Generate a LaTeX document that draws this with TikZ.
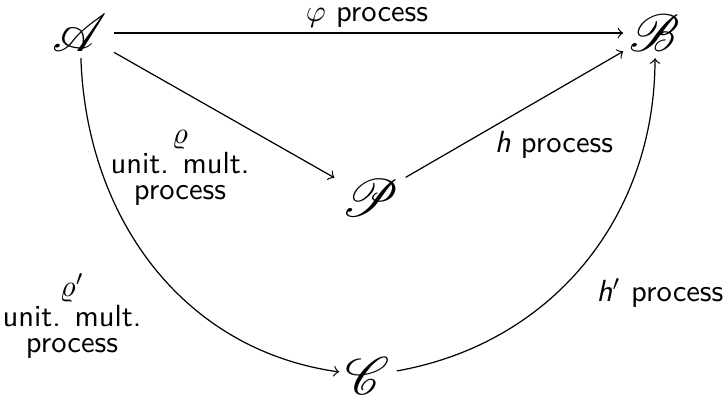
\documentclass[tikz,border=0pt]{standalone}
\usepackage{mathrsfs}
\begin{document}
\begin{tikzpicture}[font=\sffamily, x=0.327pt, y=-0.327pt, >=to]

        % Stili per oggetti, frecce ed etichette
        \tikzset{oggetto/.style={font=\LARGE, inner sep=2pt},
                 freccia/.style={->},
                 etichetta/.style={align=center, inner sep=0pt, font=\sffamily\fontsize{10}{8.5}\selectfont}}

        % Riquadro della figura (727 x 400)
        \useasboundingbox (0,0) rectangle (727,400);

        % Oggetti del diagramma
        \node[oggetto] (A) at (80,33) {$\mathscr{A}$};
        \node[oggetto] (B) at (655,33) {$\mathscr{B}$};
        \node[oggetto] (P) at (370,198) {$\mathscr{P}$};
        \node[oggetto] (C) at (368,376) {$\mathscr{C}$};

        % Frecce dritte
        \draw[freccia] (A) -- (B);
        \draw[freccia] (A) -- (P);
        \draw[freccia] (P) -- (B);

        % Frecce curve
        \draw[freccia] (A) to[out=-88, in=172] (C);
        \draw[freccia] (C) to[out=10, in=-90] (B);

        % Etichette delle frecce
        \node[etichetta] (phi) at (367,17) {$\varphi$ process};
        \node[etichetta] (rho) at (180,168) {$\varrho$\\unit. mult.\\process};
        \node[etichetta] (h) at (554,145) {\textit{h} process};
        \node[etichetta] (rho2) at (72,316) {$\varrho'$\\unit. mult.\\process};
        \node[etichetta] (h2) at (660,293) {\textit{h}$'$ process};

    \end{tikzpicture}
\end{document}
